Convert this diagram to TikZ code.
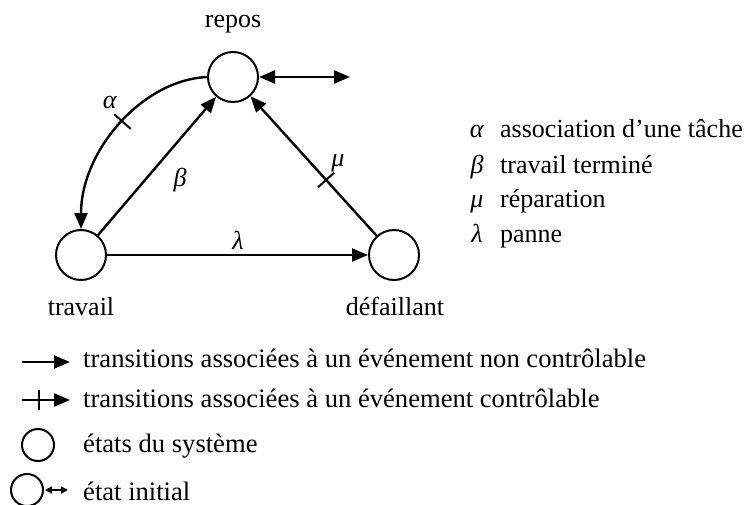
\documentclass[tikz,border=0pt]{standalone}
\usepackage{fontspec}
\setmainfont{Liberation Serif}
\usetikzlibrary{arrows.meta}
\tikzset{every node/.style={font=\fontsize{13}{15}\selectfont},
  state/.style={circle, draw, line width=1pt, minimum size=25pt, inner sep=0pt},
  arr/.style={-{Triangle[length=8pt,width=6.5pt]}},
  ctrl/.style={draw, line width=1pt, rectangle, minimum width=0pt, minimum height=11pt, inner sep=0pt, sloped},
  txt/.style={inner sep=0pt, anchor=base}}

\begin{document}
\begin{tikzpicture}[x=0.5pt, y=-0.5pt, line width=1.2pt]
  \useasboundingbox (0,0) rectangle (750,504);
  % states
  \node[state] (repos) at (233, 77) {};
  \node[state] (travail) at ( 81,255) {};
  \node[state] (defaill) at (394,255) {};
  \node[txt] (trepos) at (233, 27) {repos};
  \node[txt] (ttravail) at ( 81,315) {travail};
  \node[txt] (tdefaill) at (395,315) {défaillant};

  % transitions
  \coordinate (init) at (350, 77);
  \draw[{Triangle[length=8pt,width=6.5pt]}-{Triangle[length=8pt,width=6.5pt]}] (repos) -- (init);
  \draw[arr] (repos.west) .. controls +(-65,3) and +(0,-78) .. node[ctrl, pos=0.48] {} (travail.north);
  \draw[arr] (travail) -- (repos);
  \draw[arr] (defaill) -- node[ctrl, pos=0.4] {} (repos);
  \draw[arr] (travail) -- (defaill);
  \node (la) at (110,102) {\textit{α}};
  \node (lb) at (180,180) {\textit{β}};
  \node (lm) at (338,163) {\textit{μ}};
  \node (ll) at (238,240) {\textit{λ}};

  % events
  \node[txt] (ga) at (477,137) {\textit{α}};
  \node[txt] (gb) at (477,173) {\textit{β}};
  \node[txt] (gm) at (477,207) {\textit{μ}};
  \node[txt] (gl) at (477,242) {\textit{λ}};
  \node[txt, anchor=base west] (ea) at (499,137) {association d’une tâche};
  \node[txt, anchor=base west] (eb) at (499,173) {travail terminé};
  \node[txt, anchor=base west] (em) at (499,207) {réparation};
  \node[txt, anchor=base west] (el) at (499,242) {panne};

  % legend
  \coordinate (u1) at (22,362);
  \coordinate (u2) at (70,362);
  \coordinate (c1) at (22,400);
  \coordinate (c2) at (70,400);
  \draw[arr] (u1) -- (u2);
  \draw[arr] (c1) -- node[ctrl, pos=0.36, minimum height=10pt] {} (c2);
  \node[state, minimum size=16pt] (st) at (38,445) {};
  \node[state, minimum size=16pt] (ini) at (27,490) {};
  \coordinate (i2) at (68,490);
  \draw[line width=0.8pt, {Triangle[length=3.5pt,width=3.5pt]}-{Triangle[length=3.5pt,width=3.5pt]}] (ini.east) ++(1,0) -- (i2);
  \begin{scope}[every node/.style={font=\fontsize{13.3}{15}\selectfont}]
    \node[txt, anchor=base west] (tu) at (82,367) {transitions associées à un événement non contrôlable};
    \node[txt, anchor=base west] (tc) at (82,407) {transitions associées à un événement contrôlable};
    \node[txt, anchor=base west] (ts) at (82,452) {états du système};
    \node[txt, anchor=base west] (ti) at (82,500) {état initial};
  \end{scope}
\end{tikzpicture}
\end{document}
